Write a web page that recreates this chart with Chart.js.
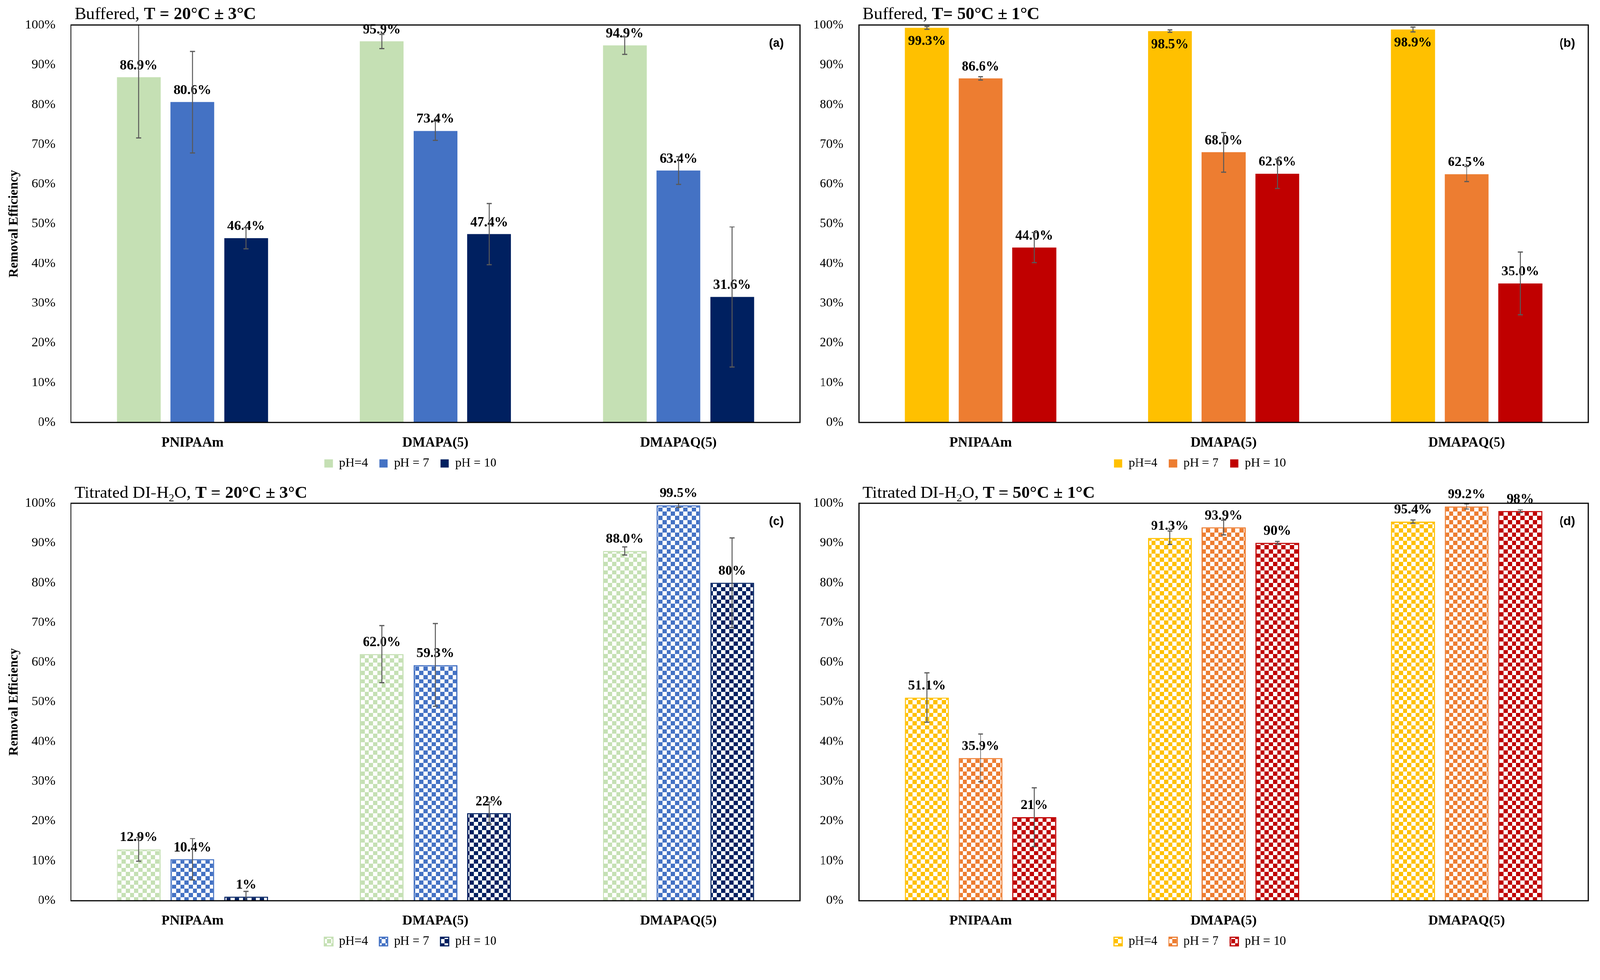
<!DOCTYPE html>
<html>
<head>
<meta charset="utf-8">
<script src="https://cdn.jsdelivr.net/npm/chart.js@4.4.1/dist/chart.umd.min.js"></script>
<style>
  html, body { margin: 0; padding: 0; background: #fff; overflow: hidden; }
  #page { width: 4198px; height: 2510px; position: relative; transform-origin: 0 0; }
  canvas { position: absolute; }
</style>
</head>
<body>
<div id="page">
<canvas id="chart-a" width="2130" height="1255" style="left:0px;top:0px"></canvas>
<canvas id="chart-b" width="2068" height="1255" style="left:2130px;top:0px"></canvas>
<canvas id="chart-c" width="2130" height="1255" style="left:0px;top:1255px"></canvas>
<canvas id="chart-d" width="2068" height="1255" style="left:2130px;top:1255px"></canvas>
</div>
<script>
const serif = "'Liberation Serif', 'Times New Roman', Times, serif";

const categories = ['PNIPAAm', 'DMAPA(5)', 'DMAPAQ(5)'];
const seriesNames = ['pH=4', 'pH = 7', 'pH = 10'];
const coolColors = ['#C5E0B4', '#4472C4', '#002060'];
const warmColors = ['#FFC000', '#ED7D31', '#C00000'];

// (a) Buffered, 20 C
const bufColdPh4 = [86.9, 95.9, 94.9];
const bufColdPh7 = [80.6, 73.4, 63.4];
const bufColdPh10 = [46.4, 47.4, 31.6];
const bufColdErr4 = [15.3, 1.8, 2.2];
const bufColdErr7 = [12.8, 2.4, 3.5];
const bufColdErr10 = [2.7, 7.7, 17.6];

// (b) Buffered, 50 C
const bufHotPh4 = [99.3, 98.5, 98.9];
const bufHotPh7 = [86.6, 68.0, 62.5];
const bufHotPh10 = [44.0, 62.6, 35.0];
const bufHotErr4 = [0.35, 0.3, 0.6];
const bufHotErr7 = [0.4, 5.0, 1.9];
const bufHotErr10 = [3.8, 3.7, 7.9];

// (c) Titrated DI-H2O, 20 C
const titColdPh4 = [12.9, 62.0, 88.0];
const titColdPh7 = [10.4, 59.3, 99.5];
const titColdPh10 = [1, 22, 80];
const titColdErr4 = [3.0, 7.2, 1.0];
const titColdErr7 = [5.2, 10.4, 0.5];
const titColdErr10 = [1.3, 2.8, 11.3];
const titColdText4 = ['12.9%', '62.0%', '88.0%'];
const titColdText7 = ['10.4%', '59.3%', '99.5%'];
const titColdText10 = ['1%', '22%', '80%'];

// (d) Titrated DI-H2O, 50 C
const titHotPh4 = [51.1, 91.3, 95.4];
const titHotPh7 = [35.9, 93.9, 99.2];
const titHotPh10 = [21, 90, 98];
const titHotErr4 = [6.2, 1.7, 0.4];
const titHotErr7 = [6.0, 1.85, 0.65];
const titHotErr10 = [7.4, 0.35, 0.35];
const titHotText4 = ['51.1%', '91.3%', '95.4%'];
const titHotText7 = ['35.9%', '93.9%', '99.2%'];
const titHotText10 = ['21%', '90%', '98%'];

// fit the 4198x2510 page into whatever viewport we get
const fit = Math.min(window.innerWidth / 4198, window.innerHeight / 2510);
document.getElementById('page').style.transform = 'scale(' + fit + ')';

Chart.defaults.font.family = serif;
Chart.defaults.color = '#000';

// checkerboard fill for the titrated panels
function checker(color) {
    const c = document.createElement('canvas');
    c.width = 22; c.height = 22;
    const g = c.getContext('2d');
    g.fillStyle = '#fff';
    g.fillRect(0, 0, 22, 22);
    g.fillStyle = color;
    g.fillRect(0, 0, 11, 11);
    g.fillRect(11, 11, 11, 11);
    return g.createPattern(c, 'repeat');
}

function fixed(vals) {
    return vals.map(v => v.toFixed(1) + '%');
}

function buildDatasets(values, errors, texts, colors, patterned) {
    return values.map((vals, k) => ({
        label: seriesNames[k],
        data: vals,
        errors: errors[k],
        labelText: texts[k],
        backgroundColor: patterned ? checker(colors[k]) : colors[k],
        borderColor: colors[k],
        borderWidth: patterned ? 3 : 0
    }));
}

// labels, error bars, frame, panel letter and title
const panelDecor = {
    id: 'panelDecor',
    afterLayout(chart) {
        // pull the legend up a little so the category labels keep room
        chart.legend.top -= 12;
        chart.legend.bottom -= 12;
    },
    afterDatasetsDraw(chart, args, opts) {
        const { ctx, chartArea: area } = chart;
        const y = chart.scales.y;
        ctx.save();

        // value labels
        ctx.font = 'bold 36px ' + serif;
        ctx.fillStyle = '#000';
        ctx.textAlign = 'center';
        ctx.textBaseline = 'alphabetic';
        chart.data.datasets.forEach((ds, di) => {
            chart.getDatasetMeta(di).data.forEach((bar, i) => {
                let ty = bar.y - 21;
                if (opts.flipHigh && bar.y - 45 < area.top - 10) ty = bar.y + 45;
                ctx.fillText(ds.labelText[i], bar.x, ty);
            });
        });

        // error bars
        ctx.save();
        ctx.beginPath();
        ctx.rect(area.left, area.top, area.width, area.height);
        ctx.clip();
        ctx.strokeStyle = '#595959';
        chart.data.datasets.forEach((ds, di) => {
            chart.getDatasetMeta(di).data.forEach((bar, i) => {
                const v = ds.data[i], e = ds.errors[i];
                const top = y.getPixelForValue(v + e);
                const bot = y.getPixelForValue(v - e);
                ctx.lineWidth = 2.5;
                ctx.beginPath();
                ctx.moveTo(bar.x, top);
                ctx.lineTo(bar.x, bot);
                ctx.stroke();
                ctx.lineWidth = 3;
                ctx.beginPath();
                ctx.moveTo(bar.x - 6.5, top); ctx.lineTo(bar.x + 6.5, top);
                ctx.moveTo(bar.x - 6.5, bot); ctx.lineTo(bar.x + 6.5, bot);
                ctx.stroke();
            });
        });
        ctx.restore();

        // plot frame
        ctx.strokeStyle = '#000';
        ctx.lineWidth = 3;
        ctx.strokeRect(area.left, area.top, area.width, area.height);

        // panel letter
        ctx.font = "bold 32px 'Liberation Sans', Arial, sans-serif";
        ctx.textAlign = 'center';
        ctx.textBaseline = 'middle';
        ctx.fillText(opts.letter, area.right - opts.letterDx, area.top + 48);

        // panel title with mixed styles
        ctx.textAlign = 'left';
        ctx.textBaseline = 'alphabetic';
        let x = opts.titleX;
        opts.title.forEach(([text, style]) => {
            let dy = 0;
            if (style === 'b') ctx.font = 'bold 45px ' + serif;
            else if (style === 'sub') { ctx.font = '28px ' + serif; dy = 9; }
            else ctx.font = '45px ' + serif;
            ctx.fillText(text, x, opts.titleY + dy);
            x += ctx.measureText(text).width;
        });
        ctx.restore();
    }
};

function makePanel(id, cfg) {
    return new Chart(document.getElementById(id), {
        type: 'bar',
        data: { labels: categories, datasets: cfg.datasets },
        options: {
            responsive: false,
            animation: false,
            devicePixelRatio: 1,
            events: [],
            categoryPercentage: 0.663,
            barPercentage: 0.816,
            layout: { padding: { left: cfg.padLeft, right: 31, top: 66, bottom: 0 } },
            scales: {
                x: {
                    grid: { display: false },
                    border: { display: false },
                    ticks: { font: { size: 36, weight: 'bold' }, padding: 24, color: '#000' },
                    afterFit: s => { s.height = 73; }
                },
                y: {
                    min: 0,
                    max: 100,
                    grid: { display: false },
                    border: { display: false },
                    ticks: { stepSize: 10, font: { size: 34 }, padding: 33, color: '#000', callback: v => v + '%' },
                    title: {
                        display: cfg.yTitle,
                        text: 'Removal Efficiency',
                        font: { size: 34, weight: 'bold' },
                        color: '#000',
                        padding: { top: -38, bottom: 0 }
                    },
                    afterFit: s => { s.width = cfg.axisWidth; }
                }
            },
            plugins: {
                tooltip: { enabled: false },
                legend: {
                    position: 'bottom',
                    labels: { font: { size: 33 }, color: '#000', boxWidth: 22, boxHeight: 22, padding: 30 }
                },
                panelDecor: {
                    letter: cfg.letter,
                    letterDx: cfg.letterDx,
                    flipHigh: cfg.flipHigh,
                    title: cfg.title,
                    titleX: cfg.titleX,
                    titleY: cfg.titleY
                }
            }
        },
        plugins: [panelDecor]
    });
}

makePanel('chart-a', {
    datasets: buildDatasets(
        [bufColdPh4, bufColdPh7, bufColdPh10],
        [bufColdErr4, bufColdErr7, bufColdErr10],
        [fixed(bufColdPh4), fixed(bufColdPh7), fixed(bufColdPh10)],
        coolColors, false),
    title: [['Buffered, ', 'n'], ['T = 20°C ± 3°C', 'b']],
    titleX: 196, titleY: 50,
    letter: '(a)', letterDx: 62, flipHigh: true,
    yTitle: true, padLeft: 55, axisWidth: 131
});

makePanel('chart-b', {
    datasets: buildDatasets(
        [bufHotPh4, bufHotPh7, bufHotPh10],
        [bufHotErr4, bufHotErr7, bufHotErr10],
        [fixed(bufHotPh4), fixed(bufHotPh7), fixed(bufHotPh10)],
        warmColors, false),
    title: [['Buffered, ', 'n'], ['T= 50°C ± 1°C', 'b']],
    titleX: 133, titleY: 50,
    letter: '(b)', letterDx: 55, flipHigh: true,
    yTitle: false, padLeft: 0, axisWidth: 124
});

makePanel('chart-c', {
    datasets: buildDatasets(
        [titColdPh4, titColdPh7, titColdPh10],
        [titColdErr4, titColdErr7, titColdErr10],
        [titColdText4, titColdText7, titColdText10],
        coolColors, true),
    title: [['Titrated DI-H', 'n'], ['2', 'sub'], ['O, ', 'n'], ['T = 20°C ± 3°C', 'b']],
    titleX: 196, titleY: 52,
    letter: '(c)', letterDx: 62, flipHigh: false,
    yTitle: true, padLeft: 55, axisWidth: 131
});

makePanel('chart-d', {
    datasets: buildDatasets(
        [titHotPh4, titHotPh7, titHotPh10],
        [titHotErr4, titHotErr7, titHotErr10],
        [titHotText4, titHotText7, titHotText10],
        warmColors, true),
    title: [['Titrated DI-H', 'n'], ['2', 'sub'], ['O, ', 'n'], ['T = 50°C ± 1°C', 'b']],
    titleX: 133, titleY: 52,
    letter: '(d)', letterDx: 55, flipHigh: false,
    yTitle: false, padLeft: 0, axisWidth: 124
});
</script>
</body>
</html>
